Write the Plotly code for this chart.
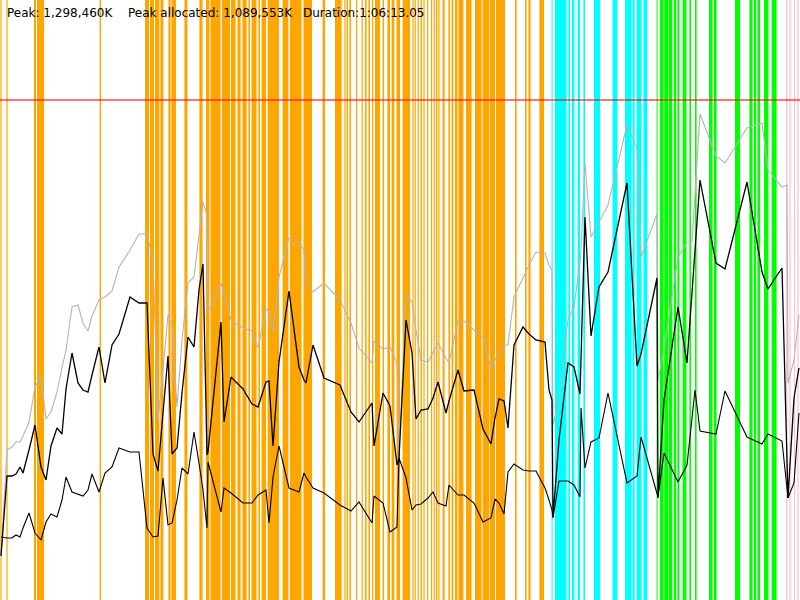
import plotly.graph_objects as go

# memory samples, time in seconds, memory as % of peak (1,298,460K)
t_sec = [5, 35, 60, 80, 100, 115, 145, 175, 205, 230, 255, 285, 310, 330, 360, 390, 415, 440, 460, 495,
         525, 560, 595, 650, 695, 735, 765, 790, 815, 840, 860, 885, 910, 940, 970, 995, 1015, 1035, 1040, 1105,
         1120, 1155, 1215, 1260, 1290, 1330, 1345, 1365, 1395, 1445, 1495, 1520, 1530, 1565, 1620, 1700, 1755, 1795, 1860, 1870,
         1915, 1950, 1985, 1995, 2030, 2060, 2080, 2105, 2140, 2165, 2190, 2230, 2245, 2290, 2320, 2370, 2415, 2455, 2475, 2495,
         2520, 2540, 2570, 2615, 2645, 2680, 2725, 2745, 2760, 2765, 2795, 2840, 2870, 2900, 2905, 2925, 2955, 2995, 3040, 3135,
         3185, 3205, 3285, 3290, 3320, 3390, 3435, 3460, 3475, 3500, 3580, 3625, 3735, 3810, 3840, 3910, 3935, 3940, 3970, 3995]

committed = [8.8, 30.0, 30.6, 31.6, 31.6, 32.8, 35.6, 42.6, 44.8, 36.2, 37.6, 41.6, 46.4, 50.0, 58.6, 59.0, 55.4, 53.8, 56.8, 60.0,
             60.6, 61.8, 66.6, 70.0, 73.2, 73.2, 68.0, 36.0, 46.0, 57.0, 55.0, 38.6, 52.0, 63.4, 64.6, 73.4, 79.6, 77.0, 57.4, 63.4,
             61.0, 56.0, 54.4, 53.8, 50.4, 58.2, 57.8, 53.6, 64.6, 72.4, 71.4, 70.0, 63.6, 61.6, 63.4, 60.0, 55.4, 50.4, 47.4, 51.8,
             50.2, 50.6, 47.4, 29.0, 61.0, 59.6, 54.0, 48.0, 47.6, 49.6, 51.4, 48.4, 47.4, 56.0, 55.8, 54.0, 52.6, 46.2, 48.0, 49.4,
             51.0, 51.0, 60.6, 64.4, 67.0, 69.6, 69.4, 67.0, 66.0, 35.0, 40.0, 56.2, 58.6, 67.6, 70.0, 87.4, 72.6, 75.6, 79.0, 95.0,
             90.4, 68.6, 77.2, 44.0, 50.0, 68.6, 71.6, 71.6, 81.2, 97.2, 88.8, 87.4, 94.4, 95.4, 86.0, 82.6, 83.0, 43.4, 48.0, 57.0]

allocated = [8.8, 24.8, 24.8, 25.2, 26.6, 25.4, 30.0, 35.0, 26.6, 24.0, 30.8, 34.4, 33.2, 42.2, 49.4, 43.4, 42.0, 41.6, 45.0, 50.6,
             43.4, 51.0, 53.2, 60.6, 59.4, 59.4, 29.2, 25.8, 37.4, 48.8, 29.2, 30.4, 41.4, 52.6, 50.6, 62.0, 67.2, 29.0, 29.6, 55.6,
             35.6, 44.6, 42.2, 39.2, 38.6, 43.6, 43.8, 30.8, 47.6, 61.8, 46.6, 44.0, 43.4, 51.0, 44.4, 43.0, 37.6, 35.6, 39.4, 30.8,
             41.4, 38.8, 27.0, 28.4, 56.0, 49.4, 36.2, 38.0, 38.2, 40.4, 43.6, 37.4, 39.8, 46.0, 41.8, 42.0, 34.2, 31.2, 36.4, 40.2,
             39.8, 34.4, 51.0, 54.6, 53.2, 52.0, 51.6, 42.0, 40.0, 16.6, 32.0, 47.4, 46.6, 41.2, 48.2, 76.6, 52.8, 62.6, 65.6, 83.4,
             46.8, 49.2, 64.4, 20.4, 40.0, 58.6, 47.4, 62.0, 69.4, 84.0, 67.4, 66.2, 83.6, 65.6, 62.2, 66.4, 28.0, 20.4, 40.4, 46.4]

live = [12.6, 12.4, 12.4, 13.0, 12.6, 14.4, 17.4, 13.4, 12.0, 15.6, 17.2, 16.6, 20.0, 24.6, 21.6, 21.2, 20.8, 22.0, 25.2, 21.6,
        25.4, 26.6, 30.4, 29.6, 29.6, 14.4, 12.6, 12.8, 24.4, 15.0, 15.4, 20.0, 26.4, 25.2, 33.6, 27.4, 22.0, 14.4, 27.6, 17.6,
        22.4, 21.4, 19.4, 19.4, 21.0, 22.0, 15.4, 24.6, 30.8, 22.4, 21.6, 25.4, 24.6, 22.4, 21.4, 19.0, 17.8, 19.6, 15.4, 20.8,
        19.4, 13.6, 14.6, 28.4, 24.4, 18.0, 19.0, 19.2, 20.4, 21.6, 19.4, 18.8, 23.0, 21.0, 21.0, 19.4, 15.6, 16.4, 20.2, 19.4,
        17.2, 25.6, 27.2, 26.0, 25.8, 25.8, 22.4, 20.0, 18.0, 16.4, 23.8, 23.8, 23.0, 20.6, 38.4, 26.4, 31.6, 32.4, 41.4, 23.4,
        24.8, 32.6, 21.6, 20.6, 29.4, 23.6, 27.0, 36.4, 42.0, 33.8, 33.2, 41.8, 32.6, 31.2, 33.2, 31.8, 22.4, 20.4, 23.4, 37.4]

# phase bands (start, end) in seconds
orange_phases = [(2, 8), (32, 38), (170, 180), (185, 220), (498, 505),
                 (725, 745), (750, 770), (775, 797), (802, 817), (842, 853), (857, 880), (922, 937),
                 (997, 1013), (1030, 1047), (1052, 1103), (1110, 1150), (1155, 1178), (1187, 1203),
                 (1212, 1233), (1242, 1250), (1258, 1283), (1292, 1300), (1308, 1330), (1338, 1395),
                 (1413, 1442), (1450, 1508), (1517, 1560), (1613, 1625), (1675, 1708), (1722, 1728),
                 (1733, 1740), (1747, 1755), (1780, 1786), (1808, 1814), (1825, 1833), (1842, 1850),
                 (1860, 1866), (1875, 1900), (1913, 1920), (1937, 1950),
                 (1958, 1972), (1983, 2000), (2013, 2050), (2062, 2068), (2073, 2079), (2088, 2094),
                 (2103, 2110), (2117, 2123), (2135, 2141), (2155, 2161), (2168, 2174),
                 (2180, 2187), (2192, 2198), (2213, 2223), (2242, 2250), (2258, 2267),
                 (2275, 2287), (2292, 2317), (2330, 2358), (2375, 2408), (2413, 2447), (2450, 2475),
                 (2480, 2525), (2575, 2583), (2625, 2633), (2642, 2653), (2697, 2720)]
cyan_phases = [(2758, 2763), (2775, 2833), (2842, 2850), (2860, 2872), (2888, 2900), (2917, 2925),
               (2970, 3000), (3063, 3087), (3125, 3158), (3163, 3173), (3183, 3207), (3217, 3237)]
green_phases = [(3283, 3288), (3300, 3318), (3321, 3340), (3343, 3362), (3370, 3380), (3387, 3397),
                (3413, 3432), (3447, 3455), (3475, 3483), (3545, 3563), (3570, 3583), (3675, 3700),
                (3747, 3763), (3770, 3780), (3787, 3800), (3820, 3842), (3858, 3883)]
pink_phases = [(3930, 3937), (3947, 3953), (3970, 3975), (3987, 3993)]

peak_pct = 100
labels = ['Peak: 1,298,460K', 'Peak allocated: 1,089,553K', 'Duration:1:06:13.05']

fig = go.Figure()

for phases, col in [(orange_phases, '#FFA500'), (cyan_phases, '#00FFFF'),
                    (green_phases, '#00FF00'), (pink_phases, '#FFC0CB')]:
    for a, b in phases:
        fig.add_vrect(x0=a, x1=b, fillcolor=col, opacity=1, line_width=0, layer='below')

fig.add_trace(go.Scatter(x=t_sec, y=committed, mode='lines', line=dict(color='#B4B4B4', width=1.1)))
fig.add_trace(go.Scatter(x=t_sec, y=allocated, mode='lines', line=dict(color='black', width=1.3)))
fig.add_trace(go.Scatter(x=t_sec, y=live, mode='lines', line=dict(color='black', width=1.1)))

fig.add_hline(y=peak_pct, line=dict(color='rgba(255,0,0,0.55)', width=2), layer='above')

for xpos, txt in zip([5, 126, 301], labels):
    fig.add_annotation(x=xpos / 800, y=1 - 13 / 600, xref='paper', yref='paper', text=txt,
                       showarrow=False, xanchor='left', yanchor='middle',
                       font=dict(family='DejaVu Sans', size=12, color='black'))

fig.update_layout(
    width=800, height=600,
    margin=dict(l=0, r=0, t=0, b=0),
    plot_bgcolor='white', paper_bgcolor='white',
    showlegend=False,
    xaxis=dict(range=[0, 4000], visible=False, fixedrange=True),
    yaxis=dict(range=[0, 120], visible=False, fixedrange=True),
)

# page body has a default 8px margin, drop it so the figure sits at 0,0
fig.write_html("out.html", config={'displayModeBar': False},
               post_script="document.body.style.margin='0';")
